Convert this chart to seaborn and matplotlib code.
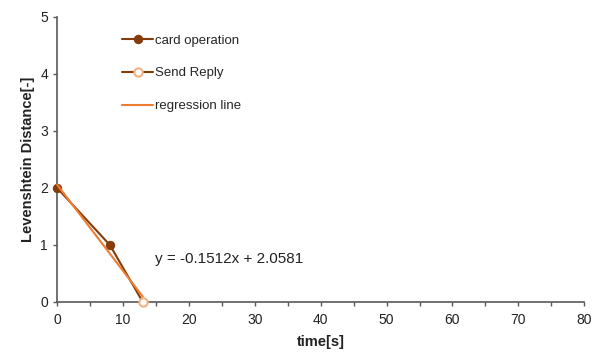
import numpy as np
import matplotlib
matplotlib.use("Agg")
import matplotlib.pyplot as plt
import seaborn as sns
from matplotlib.ticker import MultipleLocator

sns.set_theme(style="white")
plt.rcParams['font.family'] = ['Liberation Sans', 'DejaVu Sans']

# data
card_x = [0, 8, 13]
card_y = [2, 1, 0]
reply_x = [13]
reply_y = [0]
all_x = np.array([0, 8, 13])
all_y = np.array([2, 1, 0])
slope, intercept = -0.1512, 2.0581

DARK = "#843C0C"
ORANGE = "#ED7D31"
LIGHT = "#F4B183"

fig = plt.figure(figsize=(5.95, 3.54), dpi=100)
ax = fig.add_axes([0.096, 0.147, 0.886, 0.805])

reg_x = np.array([all_x.min(), all_x.max()])
sns.lineplot(x=card_x, y=card_y, ax=ax, color=DARK, linewidth=1.5,
             marker="o", markersize=6, markevery=[0, 1],
             markeredgecolor=DARK, label="card operation", clip_on=False, zorder=3)
sns.lineplot(x=reply_x, y=reply_y, ax=ax, color=DARK, linewidth=1.5,
             marker="o", markersize=6, markerfacecolor="white",
             markeredgecolor=LIGHT, markeredgewidth=1.5, label="Send Reply",
             clip_on=False, zorder=5)
ax.plot(reg_x, slope * reg_x + intercept, color=ORANGE, linewidth=1.5,
        label="regression line", clip_on=False, zorder=4)

ax.text(14.8, 0.75, f"y = {slope}x + {intercept}", fontsize=11, color="#222222",
        va="center")

ax.set_xlim(0, 80)
ax.set_ylim(0, 5)
ax.xaxis.set_major_locator(MultipleLocator(10))
ax.xaxis.set_minor_locator(MultipleLocator(5))
ax.yaxis.set_major_locator(MultipleLocator(1))
ax.tick_params(axis="both", which="both", direction="out", colors="#595959",
               labelcolor="#222222", labelsize=10, length=3, width=1,
               bottom=True, left=True)
ax.tick_params(axis="x", which="major", pad=5)
for s in ["top", "right"]:
    ax.spines[s].set_visible(False)
for s in ["left", "bottom"]:
    ax.spines[s].set_color("#595959")
    ax.spines[s].set_linewidth(1.2)

ax.set_xlabel("time[s]", fontsize=10.5, fontweight="bold", color="#222222", labelpad=6)
ax.set_ylabel("Levenshtein Distance[-]", fontsize=10.5, fontweight="bold", color="#222222")

ax.legend(loc="upper left", bbox_to_anchor=(0.1, 0.98), frameon=False,
          fontsize=9.5, labelspacing=1.55, handlelength=2.4, handletextpad=0.1)

fig.savefig("out.png", dpi=100)
